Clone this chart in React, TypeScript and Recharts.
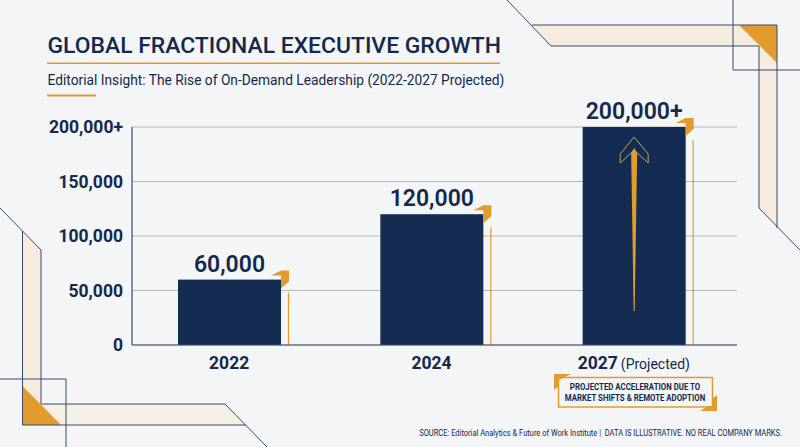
import { BarChart, Bar, XAxis, YAxis, CartesianGrid, LabelList } from 'recharts';

const years = ['2022', '2024', '2027'];
const growth = [60000, 120000, 200000];
const valueLabels = ['60,000', '120,000', '200,000+'];
const yTicks = [0, 50000, 100000, 150000, 200000];
const yTickLabels = ['0', '50,000', '100,000', '150,000', '200,000+'];

const NAVY = '#14294b';
const BAR = '#142c52';
const ORANGE = '#e29c2e';
const LINE = '#3a4a6b';
const FONT = 'Roboto, sans-serif';

const data = years.map((year, i) => ({ year, growth: growth[i], label: valueLabels[i] }));

const GrowthBar = (props: any) => {
    const { x, y, width, height, index } = props;
    const r = x + width;
    const bottom = y + height;
    const cx = x + width / 2;
    return (
        <g>
            <rect x={x} y={y} width={width} height={height} fill={BAR} />
            <polygon
                points={`${r - 10},${y - 4} ${r},${y - 9} ${r + 8},${y - 9} ${r + 8},${y + 2} ${r},${y + 9} ${r},${y - 4}`}
                fill={ORANGE}
            />
            <line x1={r + 7.5} x2={r + 7.5} y1={y + 13} y2={bottom} stroke={ORANGE} strokeWidth={1.2} />
            {index === 2 && (
                <g>
                    <polyline
                        points={`${cx - 14},${y + 36} ${cx - 14},${y + 27} ${cx},${y + 10} ${cx + 14},${y + 27} ${cx + 14},${y + 36} ${cx},${y + 23} ${cx - 14},${y + 36}`}
                        fill="none"
                        stroke="#c9a25a"
                        strokeWidth={1}
                    />
                    <polygon
                        points={`${cx},${y + 21} ${cx + 3},${y + 26} ${cx + 0.5},${y + 184} ${cx - 0.5},${y + 184} ${cx - 3},${y + 26}`}
                        fill={ORANGE}
                    />
                </g>
            )}
        </g>
    );
};

const YearTick = (props: any) => {
    const { x, y, payload } = props;
    return (
        <text x={x} y={y + 15.5} textAnchor="middle" fontFamily={FONT} fill={NAVY}>
            <tspan fontSize={17.5} fontWeight={700}>{payload.value}</tspan>
            {payload.value === '2027' && <tspan fontSize={14} fontWeight={400} dx={3}>(Projected)</tspan>}
        </text>
    );
};

const Decor = () => (
    <svg width={800} height={447} style={{ position: 'absolute', left: 0, top: 0 }}>
        {/* top right */}
        <polygon points="532,25 777,25 777,228 759,208 759,46 551,46" fill="#f6ebdf" />
        <polygon points="739,25 777,25 777,63" fill={ORANGE} />
        <g fill="none" stroke={LINE} strokeWidth={1}>
            <polyline points="507,0 551,46 759,46 759,208 800,250" />
            <polyline points="532,25 777,25 777,228" />
            <polyline points="733,0 733,70 800,70" />
        </g>
        {/* bottom left */}
        <polygon points="22.5,231 41,250 41,404 22.5,404" fill="#f6ebdf" />
        <polygon points="41,404 225,404 246,425 22.5,425" fill="#f5f0e4" />
        <polygon points="22.5,386 22.5,425 61,425" fill={ORANGE} />
        <g fill="none" stroke={LINE} strokeWidth={1}>
            <polyline points="0,208 41,250 41,404 225,404 267,447" />
            <polyline points="22.5,231 22.5,425 246,425" />
            <polyline points="0,379 66,379 66,447" />
        </g>
        {/* title rules */}
        <rect x={47} y={62.5} width={453} height={1.5} fill={ORANGE} />
        <rect x={47} y={94.5} width={49} height={2} fill={ORANGE} />
        <text x={47.5} y={53} fontFamily={FONT} fontSize={22.9} fontWeight={500} fill={NAVY}>GLOBAL FRACTIONAL EXECUTIVE GROWTH</text>
        <text x={47.5} y={85} fontFamily={FONT} fontSize={13.75} fontWeight={400} fill={NAVY}>Editorial Insight: The Rise of On-Demand Leadership (2022-2027 Projected)</text>
    </svg>
);

const Note = () => (
    <svg width={800} height={447} style={{ position: 'absolute', left: 0, top: 0 }}>
        <rect x={558.5} y={377.5} width={154} height={29.5} fill="none" stroke={ORANGE} strokeWidth={1.5} />
        <polygon points="554,374 571,374 559,380 559,386 554,390" fill={ORANGE} />
        <polygon points="717,395 717,411 700,411 708,406 712,406 712,399" fill={ORANGE} />
        <g fontFamily={FONT} fontSize={9.8} fontWeight={700} fill={NAVY} textAnchor="middle">
            <text transform="translate(635,390) scale(0.8,1)">PROJECTED ACCELERATION DUE TO</text>
            <text transform="translate(635,400.5) scale(0.8,1)">MARKET SHIFTS &amp; REMOTE ADOPTION</text>
        </g>
        <text
            transform="translate(782,436) scale(0.766,1)"
            textAnchor="end"
            fontFamily={FONT}
            fontSize={9.8}
            fill={NAVY}
            style={{ whiteSpace: 'pre' }}
        >
            SOURCE: Editorial Analytics &amp; Future of Work Institute |  DATA IS ILLUSTRATIVE. NO REAL COMPANY MARKS.
        </text>
    </svg>
);

export default function App() {
    return (
        <div style={{ position: 'absolute', left: 0, top: 0, width: 800, height: 447, background: '#f3f5f6', overflow: 'hidden' }}>
            <Decor />
            <div style={{ position: 'absolute', left: 0, top: 0 }}>
                <BarChart width={800} height={447} data={data} margin={{ top: 127, right: 63, bottom: 62, left: 42 }}>
                    <CartesianGrid horizontal vertical={false} stroke="#b5b8ba" strokeWidth={1} />
                    <XAxis
                        dataKey="year"
                        height={40}
                        padding={{ left: -4, right: 2 }}
                        tickLine={false}
                        axisLine={{ stroke: LINE, strokeWidth: 1.2 }}
                        tick={<YearTick />}
                        interval={0}
                    />
                    <YAxis
                        width={90}
                        domain={[0, 200000]}
                        ticks={yTicks}
                        tickFormatter={(v: number) => yTickLabels[yTicks.indexOf(v)]}
                        tickLine={false}
                        tickMargin={3}
                        axisLine={{ stroke: LINE, strokeWidth: 1.2 }}
                        tick={{ fill: NAVY, fontSize: 17.5, fontWeight: 700, fontFamily: FONT }}
                    />
                    <Bar dataKey="growth" barSize={103} isAnimationActive={false} shape={<GrowthBar />}>
                        <LabelList
                            dataKey="label"
                            position="top"
                            offset={8}
                            fill={NAVY}
                            fontSize={23}
                            fontWeight={600}
                            fontFamily={FONT}
                        />
                    </Bar>
                </BarChart>
            </div>
            <Note />
        </div>
    );
}
